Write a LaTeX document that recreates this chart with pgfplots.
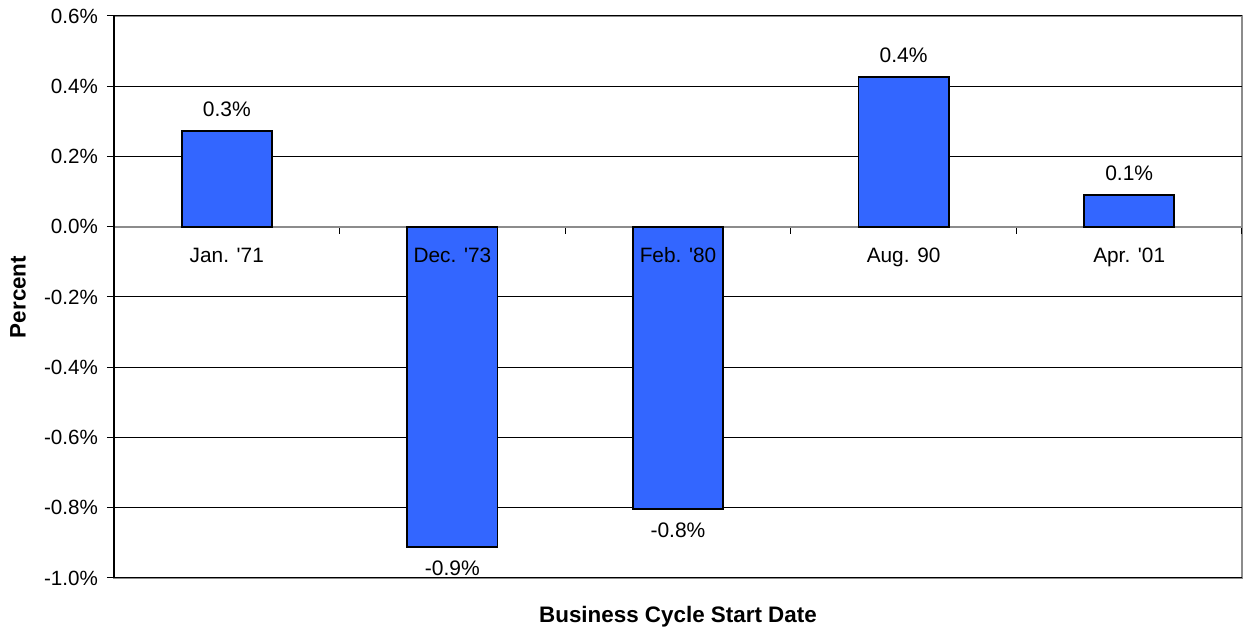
\documentclass[border=0pt]{standalone}
\usepackage{pgfplots}
\pgfplotsset{compat=1.18}
\usepackage{fontspec}
\setmainfont{Liberation Sans}
\definecolor{barblue}{HTML}{3366FF}
\definecolor{frame}{HTML}{8C8C8C}
\pgfplotstableread[col sep=comma]{
x,y,label
0,-0.101,Jan. \textquotesingle71
1,-0.101,Dec. \textquotesingle73
2,-0.101,Feb. \textquotesingle80
3,-0.101,Aug. 90
4,-0.101,Apr. \textquotesingle01
}\catlabels
\begin{document}
\begin{tikzpicture}
\begin{axis}[
  at={(0,0)}, anchor=south west,
  scale only axis,
  width=564pt, height=281pt,
  xmin=-0.5, xmax=4.5,
  ymin=-1.0, ymax=0.6,
  ytick={-1.0,-0.8,...,0.61},
  axis background/.style={draw=frame, line width=0.8pt},
  axis x line*=middle,
  axis y line*=left,
  x axis line style={draw=frame, line width=0.8pt, -},
  y axis line style={draw=black, line width=0.6pt, -},
  ymajorgrids,
  grid style={black, line width=0.5pt},
  tick align=outside,
  major tick length=3.5pt,
  xtick={-0.5,0.5,1.5,2.5,3.5,4.5},
  xticklabels={},
  x tick style={draw=black, line width=0.5pt},
  y tick style={draw=black, line width=0.5pt},
  yticklabel={\pgfmathprintnumber[fixed,fixed zerofill,precision=1]{\tick}\%},
  yticklabel style={font=\fontsize{10.3}{12}\selectfont, xshift=-1pt},
  /pgf/number format/assume math mode=true,
  ylabel={\textbf{Percent}},
  ylabel style={at={(axis description cs:0,0.5)}, anchor=center, yshift=48pt, font=\fontsize{11.2}{13}\selectfont},
  xlabel={\textbf{Business Cycle Start Date}},
  xlabel style={at={(axis description cs:0.5,0)}, anchor=center, yshift=-19.5pt, font=\fontsize{11.2}{13}\selectfont},
  clip=false,
]
\addplot[ybar, bar width=0.4, fill=barblue, draw=black, line width=0.9pt,
  nodes near coords={\pgfmathprintnumber[fixed,fixed zerofill,precision=1]{\pgfplotspointmeta}\%},
  nodes near coords align={vertical},
  every node near coord/.append style={font=\fontsize{10.5}{12}\selectfont, inner sep=6.5pt}]
  coordinates {
  (0,0.273) (1,-0.911) (2,-0.803) (3,0.427) (4,0.091)
};
\addplot[draw=none, mark=none, forget plot,
  point meta=explicit symbolic,
  nodes near coords,
  every node near coord/.append style={anchor=base, font=\fontsize{10.4}{12}\selectfont, inner sep=0pt}]
  table[x=x, y=y, meta=label] {\catlabels};
\end{axis}
\pgfresetboundingbox
\path[use as bounding box] (-57pt,-26.5pt) rectangle (565pt,289pt);
\end{tikzpicture}
\end{document}
